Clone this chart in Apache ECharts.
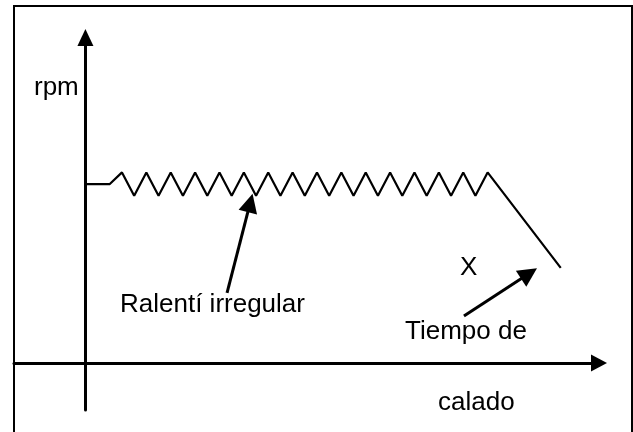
<!DOCTYPE html>
<html>
<head>
<meta charset="utf-8">
<script src="https://cdn.jsdelivr.net/npm/echarts@6/dist/echarts.min.js"></script>
<style>
  html, body { margin: 0; padding: 0; background: #fff; }
  #chart { width: 633px; height: 432px; }
</style>
</head>
<body>
<div id="chart"></div>
<script>
// tiempo (unidades arbitrarias) y rpm del ralentí irregular hasta el calado
const timeSteps = [0, 10, 15, 20, 25, 30, 35, 40, 45, 50, 55, 60, 65, 70, 75, 80, 85, 90,
  95, 100, 105, 110, 115, 120, 125, 130, 135, 140, 145, 150, 155, 160, 165, 195]
const rpmValues = [800, 800, 852, 748, 852, 748, 852, 748, 852, 748, 852, 748, 852, 748, 852, 748, 852, 748,
  852, 748, 852, 748, 852, 748, 852, 748, 852, 748, 852, 748, 852, 748, 852, 425]

// flechas de anotación: [desde, hasta] en coordenadas de datos
const arrowIdle = [[58.1, 313], [67.6, 716]]
const arrowStall = [[155.3, 210], [182.0, 400]]

// textos
const yName = 'rpm'
const idleLabel = 'Ralentí irregular'
const stallMark = 'X'
const stallLabel = ['Tiempo de', 'calado']

const chart = echarts.init(document.getElementById('chart'))

const font = '26px "Liberation Sans", Arial, sans-serif'
const txt = (text, x, y) => ({
  type: 'text',
  x: x,
  y: y,
  silent: true,
  style: { text: text, font: font, fill: '#000', verticalAlign: 'middle' }
})

const axisLine = (size) => ({
  show: true,
  onZero: true,
  symbol: ['none', 'triangle'],
  symbolSize: size,
  lineStyle: { color: '#000', width: 3 }
})

const option = {
  animation: false,
  backgroundColor: '#fff',
  grid: { left: 14, right: 34, top: 37.5, bottom: 22 },
  xAxis: {
    type: 'value',
    min: -29.3,
    max: 210.7,
    axisLine: axisLine([17, 16]),
    axisTick: { show: false },
    axisLabel: { show: false },
    splitLine: { show: false }
  },
  yAxis: {
    type: 'value',
    min: -210,
    max: 1455,
    axisLine: axisLine([16, 17]),
    axisTick: { show: false },
    axisLabel: { show: false },
    splitLine: { show: false }
  },
  series: [
    {
      type: 'line',
      data: timeSteps.map((t, i) => [t, rpmValues[i]]),
      showSymbol: false,
      silent: true,
      lineStyle: { color: '#000', width: 2.2 },
      markLine: {
        silent: true,
        symbol: ['none', 'triangle'],
        symbolSize: 19,
        label: { show: false },
        lineStyle: { color: '#000', width: 3, type: 'solid' },
        emphasis: { disabled: true },
        data: [
          [{ coord: arrowIdle[0] }, { coord: arrowIdle[1] }],
          [{ coord: arrowStall[0] }, { coord: arrowStall[1] }]
        ]
      }
    }
  ],
  graphic: [
    {
      type: 'rect',
      silent: true,
      shape: { x: 14, y: 6, width: 618, height: 440 },
      style: { fill: 'none', stroke: '#000', lineWidth: 2 }
    },
    txt(yName, 34, 88),
    txt(idleLabel, 120, 305),
    txt(stallMark, 460, 268),
    txt(stallLabel[0], 405, 332),
    txt(stallLabel[1], 438, 403)
  ]
}

chart.setOption(option)
</script>
</body>
</html>
